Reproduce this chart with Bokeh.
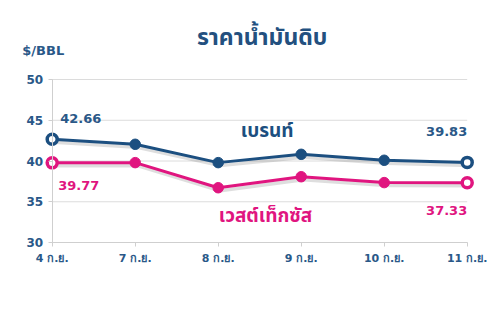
from bokeh.plotting import figure
from bokeh.models import Range1d, FixedTicker, Label
from bokeh.embed import file_html
from bokeh.resources import INLINE

# ---- data ----
dates = ["4 ก.ย.", "7 ก.ย.", "8 ก.ย.", "9 ก.ย.", "10 ก.ย.", "11 ก.ย."]
brent = [42.66, 42.05, 39.80, 40.82, 40.09, 39.83]
wti = [39.77, 39.80, 36.72, 38.07, 37.35, 37.33]
y_ticks = [30, 35, 40, 45, 50]
title_text = "ราคาน้ำมันดิบ"
unit_text = "$/BBL"
brent_name = "เบรนท์"
wti_name = "เวสต์เท็กซัส"

NAVY = "#1c4f80"
NAVY_TXT = "#2a5888"
PINK = "#e0157f"
GRID = "#dcdcdc"
AXIS = "#cfcfcf"
FONT = "'DejaVu Sans', Verdana, sans-serif"
THAI = "Tahoma, 'Noto Sans Thai', 'Noto Sans Thai UI', Loma, Garuda, 'Noto Sans', sans-serif"

W, H = 493, 309
idx = list(range(len(dates)))

# frame covers the whole canvas; scale chosen so the category axis spans 52..467 px
# and the value axis 30..50 spans 242..79 px
px_x = 83.0
x_left_px = 51.7
px_y = 8.15
y_top_px = 79.0
x_start = idx[0] - x_left_px / px_x
y_end = y_ticks[-1] + y_top_px / px_y

p = figure(width=W, height=H, output_backend="svg", toolbar_location=None,
           x_range=Range1d(x_start, x_start + W / px_x),
           y_range=Range1d(y_end - H / px_y, y_end),
           min_border=0, min_border_left=0, min_border_right=0,
           min_border_top=0, min_border_bottom=0)
p.outline_line_color = None
p.background_fill_color = "white"
p.border_fill_color = "white"
p.xgrid.visible = False
p.ygrid.visible = False

# gridlines
p.segment(x0=[idx[0]] * len(y_ticks), x1=[idx[-1]] * len(y_ticks), y0=y_ticks, y1=y_ticks,
          line_color=GRID, line_width=1)

# x axis
xa = p.xaxis[0]
xa.ticker = FixedTicker(ticks=idx)
xa.fixed_location = y_ticks[0]
xa.major_label_overrides = {i: d for i, d in zip(idx, dates)}
xa.bounds = (idx[0], idx[-1])
xa.axis_line_color = AXIS
xa.major_tick_line_color = AXIS
xa.major_tick_out = 4
xa.major_tick_in = 0
xa.minor_tick_line_color = None
xa.major_label_text_font = FONT
xa.major_label_text_font_style = "bold"
xa.major_label_text_font_size = "11px"
xa.major_label_text_color = NAVY_TXT
xa.major_label_standoff = 5

# y axis
ya = p.yaxis[0]
ya.ticker = FixedTicker(ticks=y_ticks)
ya.fixed_location = idx[0]
ya.bounds = (y_ticks[0], y_ticks[-1])
ya.axis_line_color = AXIS
ya.major_tick_line_color = AXIS
ya.major_tick_out = 4
ya.major_tick_in = 0
ya.minor_tick_line_color = None
ya.major_label_text_font = FONT
ya.major_label_text_font_style = "bold"
ya.major_label_text_font_size = "12px"
ya.major_label_text_color = NAVY_TXT
ya.major_label_standoff = 5

# shadows
dx, dy = 2.0 / px_x, -3.0 / px_y
for series in (brent, wti):
    p.line([i + dx for i in idx], [v + dy for v in series], line_color="black",
           line_alpha=0.13, line_width=3.5)

# series
for series, col in ((brent, NAVY), (wti, PINK)):
    p.line(idx, series, line_color=col, line_width=3)
    p.scatter(idx[1:-1], series[1:-1], size=10.5, fill_color=col, line_color=col)
    p.scatter([idx[0], idx[-1]], [series[0], series[-1]], size=10, fill_color="white",
              line_color=col, line_width=3.5)

# value labels
def vlabel(x, y, txt, col, align, xo, yo):
    p.add_layout(Label(x=x, y=y, text=txt, text_color=col, text_align=align,
                       text_baseline="middle", x_offset=xo, y_offset=yo,
                       text_font=FONT, text_font_style="bold", text_font_size="13px"))

vlabel(idx[0], brent[0], f"{brent[0]:.2f}", NAVY_TXT, "left", 8, 21)
vlabel(idx[-1], brent[-1], f"{brent[-1]:.2f}", NAVY_TXT, "right", 0, 31)
vlabel(idx[0], wti[0], f"{wti[0]:.2f}", PINK, "left", 6, -23)
vlabel(idx[-1], wti[-1], f"{wti[-1]:.2f}", PINK, "right", 0, -28)

# series names
p.add_layout(Label(x=2.59, y=43.6, text=brent_name, text_color=NAVY, text_align="center",
                   text_baseline="middle", text_font=THAI, text_font_style="bold",
                   text_font_size="19px"))
p.add_layout(Label(x=2.57, y=33.2, text=wti_name, text_color=PINK, text_align="center",
                   text_baseline="middle", text_font=THAI, text_font_style="bold",
                   text_font_size="19px"))

# title and unit
p.add_layout(Label(x=2.53, y=55.15, text=title_text, text_color="#23507f", text_align="center",
                   text_baseline="middle", text_font=THAI, text_font_style="bold",
                   text_font_size="23px"))
p.add_layout(Label(x=-0.36, y=53.55, text=unit_text, text_color=NAVY_TXT, text_align="left",
                   text_baseline="middle", text_font=FONT, text_font_style="bold",
                   text_font_size="13px"))

open("out.html", "w").write(file_html(p, INLINE))
